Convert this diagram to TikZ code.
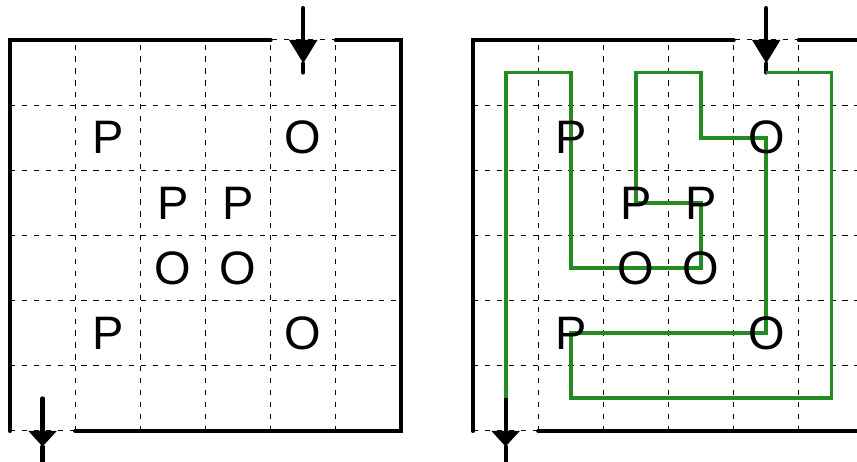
\documentclass[tikz,border=0pt]{standalone}
\usepackage{fontspec}
\setmainfont{Liberation Sans}
\usetikzlibrary{arrows.meta}
\definecolor{routegreen}{HTML}{228B22}

\begin{document}
\begin{tikzpicture}[
    wall/.style={line width=1.8pt, line cap=round},
    cellline/.style={line width=0.45pt, dash pattern=on 2.3pt off 2.9pt},
    route/.style={line width=1.7pt, routegreen},
    piece/.style={inner sep=0pt, font=\fontsize{20.5}{20.5}\selectfont}
  ]
  \useasboundingbox (-0.153,-0.476) rectangle (12.997,6.613);
  \clip (-0.153,-0.476) rectangle (12.997,6.613);
  \foreach \g/\dx in {l/0, r/7.105} {
    \begin{scope}[xshift=\dx cm]
      % cell centres, column then row from the top
      \foreach \c in {0,...,5}
        \foreach \r in {0,...,5}
          \coordinate (\g\c\r) at (\c+0.5,5.5-\r);
      \coordinate (\g-in) at (4.5,6.49);
      \coordinate (\g-intip) at (4.5,5.64);
      \coordinate (\g-outtip) at (0.5,-0.24);
      \coordinate (\g-out) at (0.5,-0.6);
      \draw[cellline] (0,0) grid (6,6);
      \draw[wall] (4,6) -- (0,6) -- (0,0);
      \draw[wall] (1,0) -- (6,0) -- (6,6) -- (5,6);
      \draw[wall, -{Triangle[length=0.36cm, width=0.42cm]}] (\g-in) -- (\g-intip);
      \draw[wall] (\g-intip) -- (\g40);
      \draw[wall, -{Triangle[length=0.24cm, width=0.42cm]}] (\g05) -- (\g-outtip);
      \draw[wall] (\g-outtip) -- (\g-out);
    \end{scope}
  }
  % the way through, right grid only
  \draw[route] (r40) -- (r50) -- (r55) -- (r15) -- (r14) -- (r44) -- (r41)
    -- (r31) -- (r30) -- (r20) -- (r22) -- (r32) -- (r33) -- (r13) -- (r10)
    -- (r00) -- (r05);
  \foreach \g in {l,r}
    \foreach \c/\r/\t in {1/1/P, 4/1/O, 2/2/P, 3/2/P, 2/3/O, 3/3/O, 1/4/P, 4/4/O}
      \node[piece] (\g-\t\c\r) at (\g\c\r) {\t};
\end{tikzpicture}
\end{document}
